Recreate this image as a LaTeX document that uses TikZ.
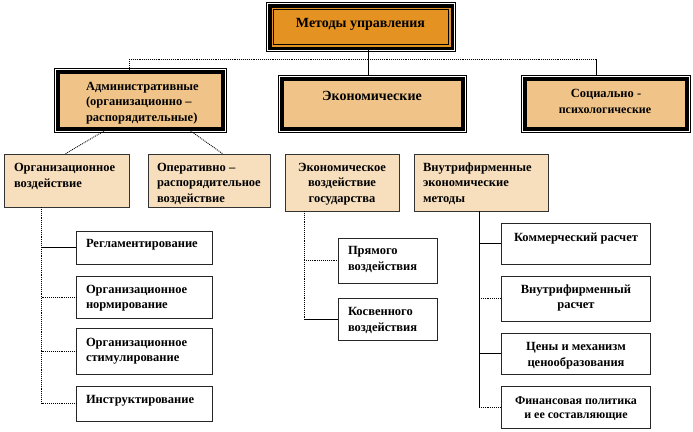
\documentclass[tikz,border=0pt]{standalone}
\usepackage{fontspec}
\setmainfont{Liberation Serif}
\usetikzlibrary{calc}
\definecolor{topor}{RGB}{228,146,34}
\definecolor{tanc}{RGB}{240,196,137}
\definecolor{peach}{RGB}{247,222,188}
\begin{document}
\begin{tikzpicture}[x=1pt,y=-1pt,
  lvlone/.style={draw=black,fill=topor,line width=3.5pt,outer sep=0pt,inner sep=0pt},
  lvltwo/.style={draw=black,fill=tanc,line width=3.5pt,outer sep=0pt,inner sep=0pt},
  lvlthree/.style={draw=black!80,fill=peach,line width=0.8pt,outer sep=0pt,inner sep=0pt},
  leafbox/.style={draw=black!85,fill=white,line width=0.8pt,outer sep=0pt,inner sep=0pt},
  thinframe/.style={draw=black,line width=0.9pt},
  solc/.style={draw=black,line width=0.8pt},
  dotc/.style={draw=black,line width=0.9pt,densely dotted},
  lbl/.style={inner sep=0pt,outer sep=0pt,font=\fontsize{12.5}{15.5}\selectfont\bfseries},
  lblL/.style={lbl,align=left,anchor=base west},
  lblC/.style={lbl,align=center,anchor=base}
]
\useasboundingbox (0,0) rectangle (693,431);
% connector coordinates
\coordinate (hL) at (129,59);
\coordinate (hM) at (368.5,59);
\coordinate (hR) at (596,59);

% boxes
\node[lvlone,minimum width=182.5pt,minimum height=42.5pt] (top) at (361,27) {};
\node[lvltwo,minimum width=165pt,minimum height=57pt] (adm) at (140.5,100.5) {};
\node[lvltwo,minimum width=181pt,minimum height=50pt] (econ) at (372.5,104) {};
\node[lvltwo,minimum width=162pt,minimum height=50pt] (soc) at (606,104) {};
\foreach \n in {top,adm,econ,soc}{
  \draw[thinframe] ([shift={(-3.3,-3.3)}]\n.north west) rectangle ([shift={(3.3,3.3)}]\n.south east);
}
\draw[line width=0.8pt] ([shift={(3.4,3.4)}]top.north west) rectangle ([shift={(-3.4,-3.4)}]top.south east);

\node[lvlthree,minimum width=125pt,minimum height=53pt] (org) at (66.5,180.5) {};
\node[lvlthree,minimum width=122pt,minimum height=53pt] (oper) at (209,180.5) {};
\node[lvlthree,minimum width=114pt,minimum height=57pt] (est) at (342,182.5) {};
\node[lvlthree,minimum width=134pt,minimum height=57pt] (vnut) at (481,182.5) {};

\node[leafbox,minimum width=136pt,minimum height=33pt] (reg) at (144,247.5) {};
\node[leafbox,minimum width=136pt,minimum height=42pt] (norm) at (144,297) {};
\node[leafbox,minimum width=136pt,minimum height=46pt] (stim) at (144,351) {};
\node[leafbox,minimum width=136pt,minimum height=35pt] (instr) at (144,403.5) {};
\node[leafbox,minimum width=99pt,minimum height=45pt] (pryam) at (387.5,260.5) {};
\node[leafbox,minimum width=99pt,minimum height=42pt] (kosv) at (387.5,319) {};
\node[leafbox,minimum width=149pt,minimum height=41pt] (komm) at (575.5,243.5) {};
\node[leafbox,minimum width=149pt,minimum height=45pt] (vras) at (575.5,298.5) {};
\node[leafbox,minimum width=149pt,minimum height=41pt] (ceny) at (575.5,353.5) {};
\node[leafbox,minimum width=149pt,minimum height=42pt] (fin) at (575.5,407) {};

% top-level connectors
\draw[dotc] (hL) -- (hR);
\draw[dotc] (hL) -- ([shift={(0,-3.3)}]hL |- adm.north);
\draw[solc] (top.south -| hM) -- (hM) -- ([shift={(0,-3.3)}]hM |- econ.north);
\draw[solc] (hR) -- ([shift={(0,-3.3)}]hR |- soc.north);
% administrative to children
\draw[dotc] ($(adm.south west)!0.279!(adm.south east)+(0,2)$) -- ($(org.north west)!0.488!(org.north east)$);
\draw[dotc] ($(adm.south west)!0.804!(adm.south east)+(0,2)$) -- ($(oper.north west)!0.615!(oper.north east)$);
% organisational trunk
\coordinate (oT) at ($(org.south west)!0.3!(org.south east)$);
\draw[dotc] (oT) -- (oT |- instr.west);
\draw[solc] (oT |- reg.west) -- (reg.west);
\draw[dotc] (oT |- norm.west) -- (norm.west);
\draw[dotc] (oT |- stim.west) -- (stim.west);
\draw[dotc] (oT |- instr.west) -- (instr.west);
% state trunk
\coordinate (eT) at ($(est.south west)!0.167!(est.south east)$);
\draw[dotc] (eT) -- (eT |- kosv.west);
\draw[dotc] (eT |- pryam.west) -- (pryam.west);
\draw[solc] (eT |- kosv.west) -- (kosv.west);
% in-firm trunk
\coordinate (vT) at ($(vnut.south west)!0.485!(vnut.south east)$);
\draw[solc] (vT) -- (vT |- fin.west);
\draw[solc] (vT |- komm.west) -- (komm.west);
\draw[dotc] (vT |- vras.west) -- (vras.west);
\draw[solc] (vT |- ceny.west) -- (ceny.west);
\draw[dotc] (vT |- fin.west) -- (fin.west);

% labels (base anchor = baseline of the last line)
\node[lblC,font=\fontsize{14}{16}\selectfont\bfseries] (tTop) at (360.5,27.5) {Методы управления};
\node[lblL] (tAdm) at (86,121) {Административные\\(организационно –\\распорядительные)};
\node[lblC,font=\fontsize{14}{16}\selectfont\bfseries] (tEcon) at (372,100.5) {Экономические};
\node[lblC] (tSoc1) at (606,97) {Социально -};
\node[lblC,font=\fontsize{12}{14}\selectfont\bfseries] (tSoc2) at (605,113.5) {психологические};
\node[lblL] (tOrg) at (14,187) {Организационное\\воздействие};
\node[lblL] (tOper) at (157,202) {Оперативно –\\распорядительное\\воздействие};
\node[lblC] (tEst) at (342,202) {Экономическое\\воздействие\\государства};
\node[lblL] (tVnut) at (423,202) {Внутрифирменные\\экономические\\методы};
\node[lblL] (tReg) at (86,247) {Регламентирование};
\node[lblL] (tNorm) at (86,308.5) {Организационное\\нормирование};
\node[lblL] (tStim) at (86,361.5) {Организационное\\стимулирование};
\node[lblL] (tInstr) at (86,403) {Инструктирование};
\node[lblL] (tPryam) at (348,270) {Прямого\\воздействия};
\node[lblL] (tKosv) at (348,331) {Косвенного\\воздействия};
\node[lblC] (tKomm) at (576,241) {Коммерческий расчет};
\node[lblC] (tVras) at (576,308.5) {Внутрифирменный\\расчет};
\node[lblC] (tCeny) at (576,366) {Цены и механизм\\ценообразования};
\node[lblC,font=\fontsize{12}{14.5}\selectfont\bfseries] (tFin) at (576,418.5) {Финансовая политика\\и ее составляющие};
\end{tikzpicture}
\end{document}
